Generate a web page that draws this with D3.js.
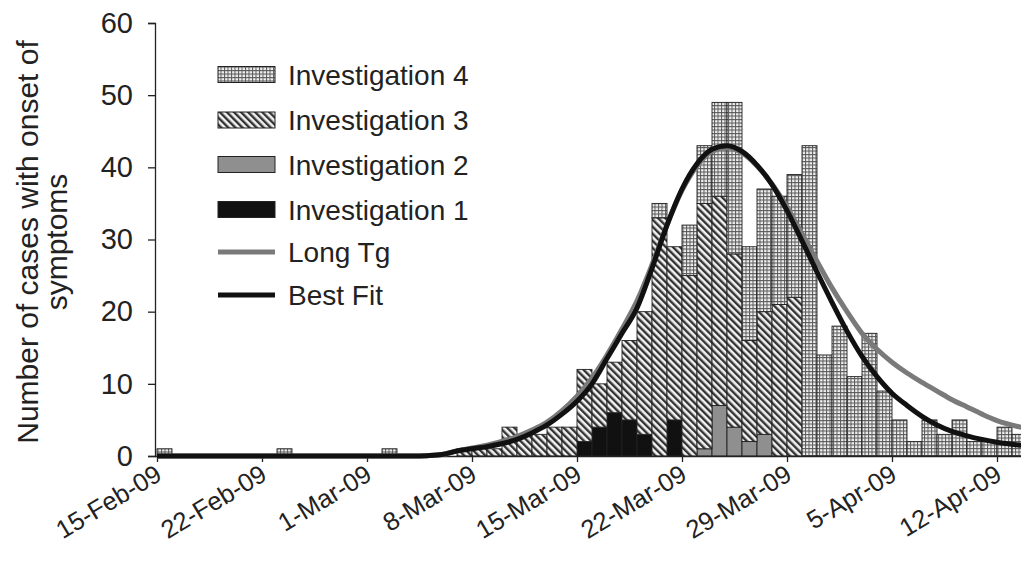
<!DOCTYPE html>
<html>
<head>
<meta charset="utf-8">
<script src="https://cdn.jsdelivr.net/npm/d3@7"></script>
<style>
  html, body { margin: 0; padding: 0; background: #fff; }
  svg { display: block; font-family: "Liberation Sans", Arial, sans-serif; }
</style>
</head>
<body>
<svg id="chart" width="1021" height="587"></svg>
<script>
// ---------------- data ----------------
// day offsets from 15-Feb-09 (one bar per day)
const tickDays = [0, 7, 14, 21, 28, 35, 42, 49, 56];
const tickLabels = ["15-Feb-09", "22-Feb-09", "1-Mar-09", "8-Mar-09", "15-Mar-09", "22-Mar-09", "29-Mar-09", "5-Apr-09", "12-Apr-09"];
const yTicks = [0, 10, 20, 30, 40, 50, 60];

const inv1 = [0,0,0,0,0,0,0,0,0,0, 0,0,0,0,0,0,0,0,0,0, 0,0,0,0,0,0,0,0,2,4, 6,5,3,0,5,0,0,0,0,0, 0,0,0,0,0,0,0,0,0,0, 0,0,0,0,0,0,0,0];
const inv2 = [0,0,0,0,0,0,0,0,0,0, 0,0,0,0,0,0,0,0,0,0, 0,0,0,0,0,0,0,0,0,0, 0,0,0,0,0,0,1,7,4,2, 3,0,0,0,0,0,0,0,0,0, 0,0,0,0,0,0,0,0];
const inv3 = [0,0,0,0,0,0,0,0,0,0, 0,0,0,0,0,0,0,0,0,0, 1,1,1,4,3,3,4,4,10,6, 7,11,17,33,24,25,34,29,24,14, 17,21,22,0,0,0,0,0,0,0, 0,0,0,0,0,0,0,0];
const inv4 = [1,0,0,0,0,0,0,0,1,0, 0,0,0,0,0,1,0,0,0,0, 0,0,0,0,0,0,0,0,0,0, 0,0,0,2,0,7,8,13,21,13, 17,15,17,43,14,18,11,17,9,5, 2,5,3,5,2,2,4,3];

const seriesNames = ["Investigation 1", "Investigation 2", "Investigation 3", "Investigation 4"];

const bestFitDay = [0,17,18,19,20,21,22,24,25,26,27,28,29,30,31,32,33,34,35,36,37,38,39,40,41,42,43,44,45,46,47,48,49,50,51,52,53,54,55,56,58];
const bestFitVal = [0,0,0.05,0.2,0.7,1.0,1.3,2.3,3.2,4.3,5.8,7.6,10,13.5,17,20.5,26,32,37,40.5,42.5,43,42.2,40.3,37.6,34,29.8,25.5,21.3,17.3,13.8,11,8.7,7,5.5,4.3,3.4,2.8,2.3,1.9,1.4];
const longTgDay = [0,17,18,19,20,21,22,24,25,26,27,28,29,30,31,32,33,34,35,36,37,38,39,40,41,42,43,44,45,46,47,48,49,50,51,52,53,54,55,56,58];
const longTgVal = [0,0,0.05,0.2,0.7,1.1,1.5,2.7,3.6,4.7,6.3,8.3,10.8,14,17.6,21.5,26.5,32,36.8,40.2,42.2,42.7,42,40.2,37.7,34.5,30.8,27,23.3,20,17,14.8,13,11.5,10.2,9,7.8,6.8,5.8,4.9,3.8];

// ---------------- drawing ----------------
const svg = d3.select("#chart");
const x = d3.scaleLinear().domain([0, 59]).range([157, 1042]);
const y = d3.scaleLinear().domain([0, 60]).range([456, 23]);

const defs = svg.append("defs");
// grid pattern (Investigation 4)
const pg = defs.append("pattern").attr("id", "pGrid").attr("patternUnits", "userSpaceOnUse")
  .attr("width", 3.5).attr("height", 3.5);
pg.append("rect").attr("width", 3.5).attr("height", 3.5).attr("fill", "#f0f0f0");
pg.append("path").attr("d", "M0,0.5H3.5M0.5,0V3.5").attr("stroke", "#5a5a5a").attr("stroke-width", 1);
// hatch pattern (Investigation 3)
const ph = defs.append("pattern").attr("id", "pHatch").attr("patternUnits", "userSpaceOnUse")
  .attr("width", 5).attr("height", 5).attr("patternTransform", "rotate(-45)");
ph.append("rect").attr("width", 5).attr("height", 5).attr("fill", "#f2f2f2");
ph.append("line").attr("x1", 1.2).attr("y1", 0).attr("x2", 1.2).attr("y2", 5)
  .attr("stroke", "#333").attr("stroke-width", 2.4);

const fills = ["#111", "#8f8f8f", "url(#pHatch)", "url(#pGrid)"];

const rows = inv1.map((v, i) => ({ day: i, "Investigation 1": inv1[i], "Investigation 2": inv2[i], "Investigation 3": inv3[i], "Investigation 4": inv4[i] }));
const stack = d3.stack().keys(seriesNames)(rows);

const bars = svg.append("g");
stack.forEach((layer, k) => {
  bars.selectAll(null).data(layer.filter(d => d[1] > d[0])).enter().append("rect")
    .attr("x", d => x(d.data.day))
    .attr("width", d => x(d.data.day + 1) - x(d.data.day))
    .attr("y", d => y(d[1]))
    .attr("height", d => y(d[0]) - y(d[1]))
    .attr("fill", fills[k])
    .attr("stroke", "#222").attr("stroke-width", 0.9);
});

// axes
const yAxis = d3.axisLeft(y).tickValues(yTicks).tickSize(7).tickPadding(15);
const gy = svg.append("g").attr("transform", "translate(155,0)").call(yAxis);
gy.selectAll("text").attr("font-size", 29).attr("fill", "#222").attr("font-family", "Liberation Sans, Arial, sans-serif");
gy.selectAll("line, path").attr("stroke", "#222").attr("stroke-width", 1.3);

const xAxis = d3.axisBottom(x).tickValues(tickDays).tickFormat((d, i) => tickLabels[i]).tickSize(6).tickSizeOuter(0);
const gx = svg.append("g").attr("transform", "translate(0,456)").call(xAxis);
gx.select(".domain").attr("d", "M155,0.5H1021");
gx.selectAll("line, path").attr("stroke", "#222").attr("stroke-width", 1.3);
gx.selectAll("text").attr("font-size", 25.5).attr("fill", "#222").attr("font-family", "Liberation Sans, Arial, sans-serif")
  .attr("text-anchor", "end").attr("dy", 0).attr("y", 0)
  .attr("transform", "translate(6,23) rotate(-31)");

// curves
const line = d3.line().x(d => x(d[0])).y(d => y(d[1])).curve(d3.curveMonotoneX);
svg.append("path").datum(longTgDay.map((d, i) => [d, longTgVal[i]]))
  .attr("d", line).attr("fill", "none").attr("stroke", "#7a7a7a").attr("stroke-width", 5);
svg.append("path").datum(bestFitDay.map((d, i) => [d, bestFitVal[i]]))
  .attr("d", line).attr("fill", "none").attr("stroke", "#111").attr("stroke-width", 5);

// y label
const yl = svg.append("text").attr("transform", "translate(38,242) rotate(-90)")
  .attr("text-anchor", "middle").attr("font-size", 30).attr("fill", "#222");
yl.append("tspan").attr("x", 0).attr("dy", 0).text("Number of cases with onset of");
yl.append("tspan").attr("x", 0).attr("dy", 29).text("symptoms");

// legend
const legendItems = [
  { name: "Investigation 4", type: "rect", fill: "url(#pGrid)", cy: 74.5 },
  { name: "Investigation 3", type: "rect", fill: "url(#pHatch)", cy: 120 },
  { name: "Investigation 2", type: "rect", fill: "#8f8f8f", cy: 164.5 },
  { name: "Investigation 1", type: "rect", fill: "#111", cy: 209.5 },
  { name: "Long Tg", type: "line", fill: "#7a7a7a", cy: 252 },
  { name: "Best Fit", type: "line", fill: "#111", cy: 295 }
];
const lg = svg.append("g");
legendItems.forEach(it => {
  if (it.type === "rect") {
    lg.append("rect").attr("x", 218).attr("y", it.cy - 8).attr("width", 57).attr("height", 16)
      .attr("fill", it.fill).attr("stroke", "#222").attr("stroke-width", 1);
  } else {
    lg.append("line").attr("x1", 218).attr("x2", 275).attr("y1", it.cy).attr("y2", it.cy)
      .attr("stroke", it.fill).attr("stroke-width", 5);
  }
  lg.append("text").attr("x", 288).attr("y", it.cy + 10).attr("font-size", 28).attr("fill", "#222").text(it.name);
});
</script>
</body>
</html>
